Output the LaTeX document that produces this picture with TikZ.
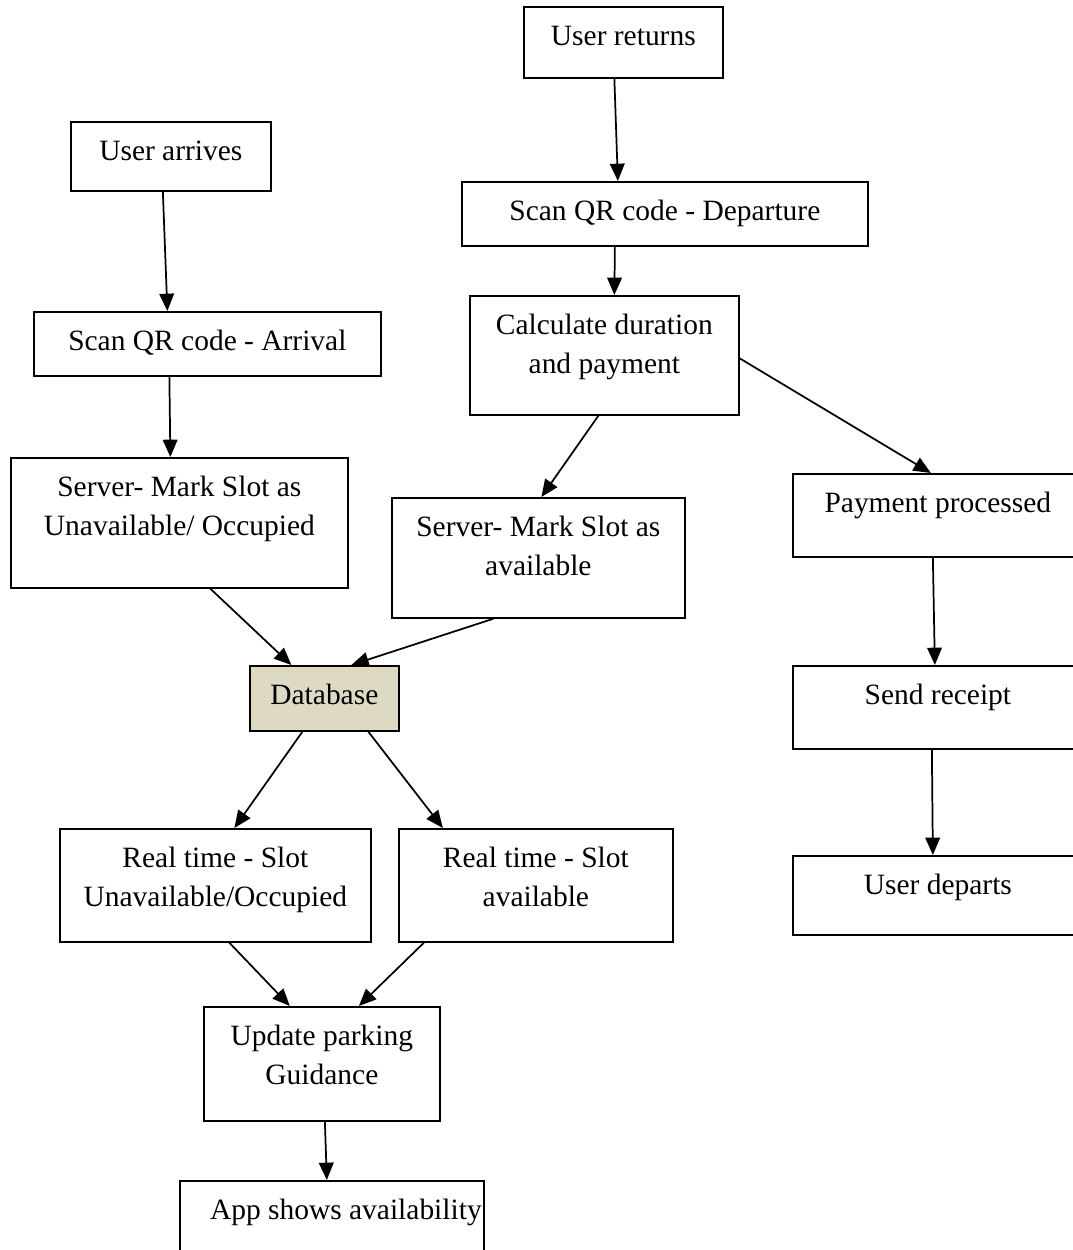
\documentclass[tikz,border=0pt]{standalone}
\usepackage{fontspec}
\setmainfont{Liberation Serif}
\usetikzlibrary{arrows.meta}
\newlength\px
\setlength\px{0.75pt}
\newcommand\bt[3]{\parbox[c][#2\px][t]{#1\px}{\centering\rule{0pt}{39\px}#3\par}}
\begin{document}
\begin{tikzpicture}[x=0.75pt,y=-0.75pt,
  box/.style={draw, line width=1.3pt, inner sep=0pt, anchor=north west, fill=white},
  dbbox/.style={box, fill=dbfill},
  arr/.style={line width=1.3pt, -{Triangle[length=13pt,width=11pt]}},
  every node/.style={font=\fontsize{22.1pt}{29.25pt}\selectfont}]
\definecolor{dbfill}{HTML}{DDD9C3}
\clip (0,0) rectangle (1073,1250);
\fill[white] (0,0) rectangle (1073,1250);
% nodes
\node[box] (ur) at (523,6) {\bt{199}{71}{User returns}};
\node[box] (ua) at (70,121) {\bt{200}{69}{User arrives}};
\node[box] (sd) at (461,181) {\bt{406}{64}{Scan QR code - Departure}};
\node[box] (sa) at (33,311) {\bt{347}{64}{Scan QR code - Arrival}};
\node[box] (cd) at (469,295) {\bt{269}{119}{Calculate duration\\and payment}};
\node[box] (su) at (10,457) {\bt{337}{130}{Server- Mark Slot as\\Unavailable/ Occupied}};
\node[box] (sv) at (391,497) {\bt{293}{120}{Server- Mark Slot as\\available}};
\node[box] (pp) at (792,473) {\bt{290}{83}{Payment processed}};
\node[dbbox] (db) at (249,665) {\bt{149}{65}{Database}};
\node[box] (sr) at (792,665) {\bt{290}{83}{Send receipt}};
\node[box] (ud) at (792,855) {\bt{290}{79}{User departs}};
\node[box] (ru) at (59,828) {\bt{311}{113}{Real time - Slot\\Unavailable/Occupied}};
\node[box] (ra) at (398,828) {\bt{274}{113}{Real time - Slot\\available}};
\node[box] (up) at (203,1006) {\bt{236}{114}{Update parking\\Guidance}};
\node[box] (ap) at (179,1180) {\bt{304}{80}{\hspace*{28\px}App shows availability}};
% connectors
\draw[arr] ([xshift=-9\px]ur.south) -- ([xshift=-47\px]sd.north);
\draw[arr] ([xshift=-8\px]ua.south) -- ([xshift=-40\px]sa.north);
\draw[arr] ([xshift=-50\px]sd.south) -- ([xshift=10\px]cd.north);
\draw[arr] ([xshift=-38\px]sa.south) -- ([xshift=-9\px]su.north);
\draw[arr] ([xshift=-6\px]cd.south) -- ([xshift=3\px]sv.north);
\draw[arr] ([yshift=-3\px]cd.east) -- ([xshift=-7\px]pp.north);
\draw[arr] ([xshift=31\px]su.south) -- ([xshift=-33\px]db.north);
\draw[arr] ([xshift=-45\px]sv.south) -- ([xshift=27\px]db.north);
\draw[arr] ([xshift=-5\px]pp.south) -- ([xshift=-3\px]sr.north);
\draw[arr] ([xshift=-6\px]sr.south) -- ([xshift=-5\px]ud.north);
\draw[arr] ([xshift=-22\px]db.south) -- ([xshift=19\px]ru.north);
\draw[arr] ([xshift=44\px]db.south) -- ([xshift=-93\px]ra.north);
\draw[arr] ([xshift=14\px]ru.south) -- ([xshift=-32\px]up.north);
\draw[arr] ([xshift=-112\px]ra.south) -- ([xshift=37\px]up.north);
\draw[arr] ([xshift=3\px]up.south) -- ([xshift=-5\px]ap.north);
\end{tikzpicture}
\end{document}
